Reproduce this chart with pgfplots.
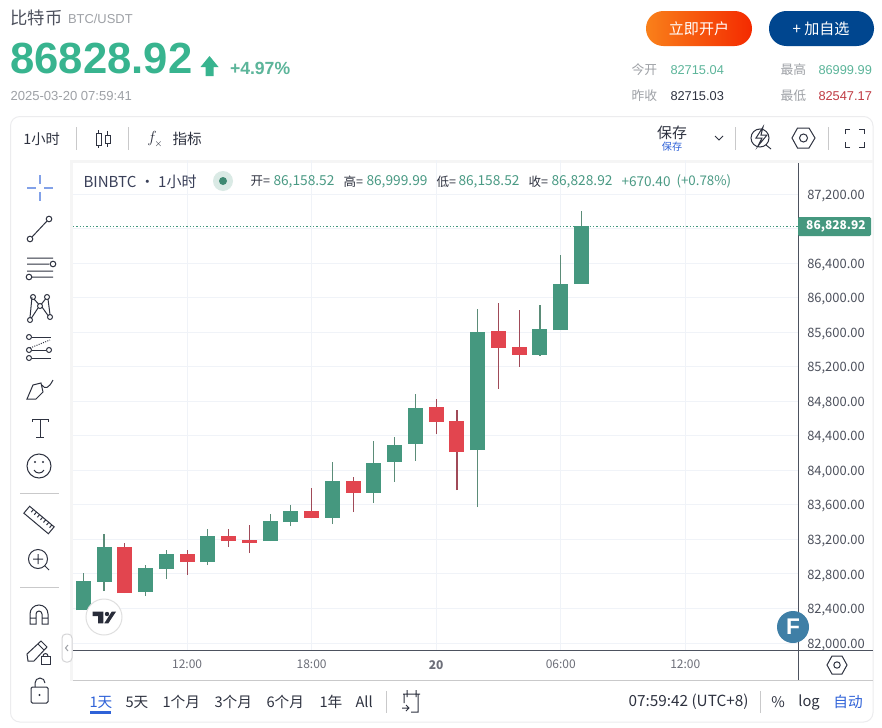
\documentclass[border=0pt]{standalone}
\usepackage{fontspec}
\usepackage{pgfplots}
\usepackage{pgfplotstable}
\pgfplotsset{compat=1.18}
\setmainfont{Noto Sans CJK SC}
\newfontfamily\arial{Liberation Sans}
\definecolor{gbody}{HTML}{45987F}
\definecolor{rbody}{HTML}{E2454F}
\definecolor{gwick}{HTML}{5B8C78}
\definecolor{rwick}{HTML}{A04A58}
\definecolor{gridc}{HTML}{F0F3F8}
\definecolor{hgreen}{HTML}{38B48F}
\definecolor{sgreen}{HTML}{5CB59A}
\definecolor{lgreen}{HTML}{4A9A84}
\definecolor{ghead}{HTML}{9EA1A6}
\definecolor{ink}{HTML}{2E3240}
\definecolor{navy}{HTML}{3A4059}
\definecolor{axisc}{HTML}{4D525F}
\definecolor{bordc}{HTML}{ECECEE}
\definecolor{blueb}{HTML}{00468F}
\definecolor{bluet}{HTML}{2F62D8}
\definecolor{fbadge}{HTML}{3F7FA6}
\definecolor{btnl}{HTML}{F9801A}
\definecolor{btnr}{HTML}{F42A00}
\pgfplotstableread{
h low high bot top
7 82382 82807 82382 82718
8 82602 83262 82707 83112
10 82544 82903 82591 82869
11 82741 83077 82857 83031
13 82903 83320 82938 83239
16 83181 83494 83181 83413
17 83355 83598 83401 83529
19 83378 84096 83448 83876
21 83622 84340 83738 84085
22 83865 84386 84097 84293
23 84108 84884 84305 84722
26 83575 85868 84235 85602
29 85324 85915 85336 85637
30 85625 86494 85625 86158
31 86158.52 86999.99 86158.52 86828.92
}\greentable
\pgfplotstableread{
h low high bot top
9 82579 83158 82579 83112
12 82788 83077 82938 83031
14 83112 83320 83181 83239
15 83042 83367 83158 83193
18 83448 83795 83448 83529
20 83517 83923 83738 83876
24 84421 84826 84560 84733
25 83772 84698 84212 84571
27 84942 85938 85417 85613
28 85197 85857 85336 85428
}\redtable
\newcommand{\fs}[1]{\fontsize{#1}{#1}\selectfont}
\begin{document}
\begin{tikzpicture}
\begin{scope}[x=0.75pt,y=-0.75pt,line width=0.75pt]
\path[use as bounding box] (0,0) rectangle (882,728);
\fill[white] (0,0) rectangle (882,728);
% header
\node[anchor=west,inner sep=0,text=ink!85] at (10,18) {\fs{13}比特币};
\node[anchor=west,inner sep=0,text=ghead] at (67.5,19) {\arial\fs{9.7}BTC/USDT};
\node[anchor=west,inner sep=0,text=hgreen] at (10,58) {\arial\bfseries\fs{32.7}86828.92};
\fill[hgreen] (209.5,56)--(218.5,67)--(213.5,67)--(213.5,76)--(205.5,76)--(205.5,67)--(200.5,67)--cycle;
\node[anchor=west,inner sep=0,text=sgreen] at (229.5,68) {\arial\bfseries\fs{13.2}+4.97\%};
\node[anchor=west,inner sep=0,text=ghead] at (10,96.5) {\arial\fs{9.8}2025-03-20 07:59:41};
% buttons
\shade[left color=btnl,right color=btnr,rounded corners=13pt] (646,11) rectangle (752,46);
\fill[blueb,rounded corners=13pt] (769,11) rectangle (874,46);
\node[text=white,inner sep=0] at (699,28.5) {\fs{11.3}立即开户};
\node[text=white,inner sep=0] at (821,28.5) {\fs{11.3}+ 加自选};
% stats
\foreach \x/\y/\t in {631/70/今开,631/96/昨收,780/70/最高,780/96/最低}
  \node[anchor=west,inner sep=0,text=ghead] at (\x,\y) {\fs{9.6}\t};
\node[anchor=west,inner sep=0,text=sgreen] at (670,70) {\arial\fs{9.6}82715.04};
\node[anchor=west,inner sep=0,text=ink] at (670,96) {\arial\fs{9.6}82715.03};
\node[anchor=west,inner sep=0,text=sgreen] at (818,70) {\arial\fs{9.6}86999.99};
\node[anchor=west,inner sep=0,text=rbody!85!black] at (818,96) {\arial\fs{9.6}82547.17};
% panel
\draw[bordc,rounded corners=7pt,fill=white] (10.5,116.5) rectangle (873,722);
\fill[gray!8] (70,160) rectangle (872.5,163);
\fill[gray!8] (70,160) rectangle (73,681);
% top toolbar
\node[anchor=west,inner sep=0,text=ink] at (23,139) {\fs{10.7}1小时};
\foreach \x in {76,128,735,828} \draw[bordc!85!black] (\x,127)--(\x,150);
\draw[ink] (96,133) rectangle (101,145) (98.5,130)--(98.5,133) (98.5,145)--(98.5,148);
\draw[ink] (105,135) rectangle (110,143) (107.5,131)--(107.5,135) (107.5,143)--(107.5,147);
\node[inner sep=0,text=ink] at (152,138) {\fs{13}$f$};
\node[inner sep=0,text=ink] at (158.5,144) {\fs{7}$\times$};
\node[anchor=west,inner sep=0,text=ink] at (172,139) {\fs{11}指标};
\node[inner sep=0,text=ink] at (672,133) {\fs{11.2}保存};
\node[inner sep=0,text=bluet] at (672,146.5) {\fs{7.6}保存};
\draw[ink] (715,136)--(719,140)--(723,136);
\draw[ink] (760,138) circle (9) (766,145)--(771,149);
\draw[ink,fill=white] (763,127)--(756,138)--(762,138)--(758,146)--(767,135)--(761,135)--cycle;
\draw[ink] (792,138)--(797.5,128)--(809,128)--(815,138)--(809,148)--(797.5,148)--cycle (803.5,138) circle (4);
\draw[ink] (845,134)--(845,129)--(850,129) (859,129)--(864,129)--(864,134) (864,142)--(864,147)--(859,147) (850,147)--(845,147)--(845,142);
% left toolbar
\draw[bluet!60,line width=1pt] (27,188)--(36,188) (44,188)--(53,188) (40,175)--(40,184) (40,192)--(40,201);
\draw[ink] (30,239) circle (2.8) (49,219) circle (2.8) (32,237)--(47,221);
\draw[ink] (27,258)--(53,258) (27,264)--(49,264) (53,264) circle (2.8) (27,271)--(53,271) (32,277)--(53,277) (29,277) circle (2.8);
\draw[ink] (33,297) circle (2.5) (47,297) circle (2.5) (40,306) circle (2.5) (30,320) circle (2.5) (50,317) circle (2.5);
\draw[ink] (34,299)--(38.5,304) (45.5,299)--(41.5,304) (32,297)--(30,317.5) (48,299)--(50,314.5) (38,308)--(31.5,318) (42,307)--(48,315.5);
\draw[ink] (29,337) circle (2.5) (29,350) circle (2.5) (29,358) circle (2.5) (49,350) circle (2.5);
\draw[ink] (32,337)--(51,337) (32,358)--(51,358) (32,350)--(46,350);
\draw[ink,densely dotted] (30,348)--(50,340);
\draw[ink] (27,399)--(33,385)--(41,383)--(43,392)--(36,399)--cycle (42,385) .. controls (45,390) and (49,388) .. (53,380);
\draw[ink] (32,419)--(48,419) (32,419)--(32,422) (48,419)--(48,422) (40,419)--(40,437) (36,437)--(44,437);
\draw[ink] (39,466) circle (12) (34,470) .. controls (36,474) and (42,474) .. (44,470);
\fill[ink] (35,462) circle (1.1) (43,462) circle (1.1);
\foreach \y in {493,587} \draw[bordc!85!black] (20,\y)--(59,\y);
\begin{scope}[shift={(39,520)},rotate=-40]
\draw[ink] (-16,-4.5) rectangle (16,4.5);
\foreach \x in {-11,-7,-3,1,5,9,13} \draw[ink] (\x,-4.5)--(\x,-1);
\end{scope}
\draw[ink] (38,559) circle (9.5) (45,566)--(49,570) (33,559)--(43,559) (38,554)--(38,564);
\draw[ink] (30,624)--(30,614) arc (180:360:9) --(48,624)--(42,624)--(42,614) arc (360:180:3) --(36,624)--cycle (30,618)--(36,618) (42,618)--(48,618);
\draw[ink] (28,661)--(27,654)--(41,641)--(47,647)--(34,661)--cycle (38,644)--(44,650);
\draw[ink,fill=white] (41,656) rectangle (50,664);
\draw[ink] (43,656) arc (180:360:2.5);
\draw[ink,rounded corners=1pt] (31,687) rectangle (48,703);
\draw[ink] (35,687)--(35,683) arc (180:360:5);
\fill[ink] (39.5,695) circle (1.2);
\draw[bordc!90!black,rounded corners=3pt,fill=white] (62,634) rectangle (72,662);
\draw[ghead] (68,645)--(65.5,648)--(68,651);
\end{scope}
\begin{axis}[
  at={(54.75pt,-487.5pt)},anchor=south west,
  scale only axis,width=543.75pt,height=367.5pt,
  xmin=6.504,xmax=41.43,ymin=81919.1,ymax=87593.8,
  axis line style={draw=none},
  major tick length=0pt,
  grid=major,grid style={gridc,line width=0.75pt},
  xtick={12,18,24,30,36},
  xticklabels={12:00,18:00,\textbf{20},06:00,12:00},
  ytick={82000,82400,82800,83200,83600,84000,84400,84800,85200,85600,86000,86400,87200},
  extra y ticks={86800},extra y tick labels={},
  extra y tick style={grid=major,grid style={gridc,line width=0.75pt}},
  scaled y ticks=false,
  yticklabel pos=right,
  yticklabel style={/pgf/number format/.cd,assume math mode=true,fixed,fixed zerofill,precision=2,1000 sep={,},/tikz/.cd,font=\fs{9.7},text=ink!85,inner sep=0pt,xshift=6.75pt,yshift=-1.2pt},
  xticklabel style={font=\fs{9},text=ink!70,inner sep=0pt,yshift=-7.5pt},
  clip=true,
]
\addplot[gbody,line width=0.75pt,dash pattern=on 0.9pt off 1.6pt] coordinates {(6.504,86828.92)(41.43,86828.92)};
\addplot[draw=none,no markers,error bars/.cd,y dir=plus,y explicit,error mark=none,error bar style={draw=gwick,line width=0.85pt}]
  table[x=h,y=low,y error plus expr=\thisrow{high}-\thisrow{low}]{\greentable};
\addplot[draw=none,no markers,error bars/.cd,y dir=plus,y explicit,error mark=none,error bar style={draw=rwick,line width=0.85pt}]
  table[x=h,y=low,y error plus expr=\thisrow{high}-\thisrow{low}]{\redtable};
\addplot[draw=none,no markers,error bars/.cd,y dir=plus,y explicit,error mark=none,error bar style={draw=gbody,line width=11.25pt}]
  table[x=h,y=bot,y error plus expr=\thisrow{top}-\thisrow{bot}]{\greentable};
\addplot[draw=none,no markers,error bars/.cd,y dir=plus,y explicit,error mark=none,error bar style={draw=rbody,line width=11.25pt}]
  table[x=h,y=bot,y error plus expr=\thisrow{top}-\thisrow{bot}]{\redtable};
\end{axis}
\begin{scope}[x=0.75pt,y=-0.75pt,line width=0.75pt]
\draw[axisc,line width=0.75pt] (73,650)--(872.5,650) (798,163)--(798,680);
\draw[bordc!85!black] (73,680)--(872.5,680);
% legend row
\node[anchor=west,inner sep=0,text=navy] at (83,181.5) {\fs{11.3}BINBTC · 1小时};
\fill[gbody!20] (223,181) circle (10);
\fill[gbody!90!black] (223,181) circle (4);
\node[anchor=west,inner sep=0,text=ink] at (250,181.5) {\fs{9.4}开=};
\node[anchor=west,inner sep=0,text=lgreen] at (273,181.5) {\fs{10.3}86,158.52};
\node[anchor=west,inner sep=0,text=ink] at (343,181.5) {\fs{9.4}高=};
\node[anchor=west,inner sep=0,text=lgreen] at (366,181.5) {\fs{10.3}86,999.99};
\node[anchor=west,inner sep=0,text=ink] at (436,181.5) {\fs{9.4}低=};
\node[anchor=west,inner sep=0,text=lgreen] at (458,181.5) {\fs{10.3}86,158.52};
\node[anchor=west,inner sep=0,text=ink] at (528,181.5) {\fs{9.4}收=};
\node[anchor=west,inner sep=0,text=lgreen] at (551,181.5) {\fs{10.3}86,828.92};
\node[anchor=west,inner sep=0,text=lgreen] at (621,181.5) {\fs{10.2}+670.40};
\node[anchor=west,inner sep=0,text=lgreen] at (676,181.5) {\fs{10}(+0.78\%)};
% price tag
\fill[gbody,rounded corners=1pt] (798,217) rectangle (871,236);
\node[text=white,inner sep=0] at (836,226.5) {\fs{9}\bfseries 86,828.92};
% logos
\draw[gray!25,fill=white] (104,617) circle (18);
\fill[ink!90!black] (92.7,611.7) rectangle (103.3,616) (98,616) rectangle (103.3,623.3) (107,614) circle (2.2);
\fill[ink!90!black] (111.7,611.7)--(116,611.7)--(108.3,623.3)--(104.3,623.3)--cycle;
\fill[fbadge] (793,627) circle (16);
\node[text=white,inner sep=0] at (793,627) {\arial\bfseries\fs{17}F};
\draw[ink] (827,665)--(832,656)--(842,656)--(847,665)--(842,674)--(832,674)--cycle (837,665) circle (3.2);
% bottom bar
\foreach \x/\t in {125/5天,162/1个月,214/3个月,266/6个月,319/1年,355/All}
  \node[anchor=west,inner sep=0,text=ink] at (\x,702) {\fs{11}\t};
\node[anchor=west,inner sep=0,text=bluet] at (89,702) {\fs{11}1天};
\fill[bluet] (90,711) rectangle (111,714);
\foreach \x in {386,760} \draw[bordc!85!black] (\x,691)--(\x,713);
\draw[ink] (403,694)--(420,694) (407,690)--(407,697) (416,690)--(416,697) (404,694)--(404,703) (418,694)--(418,712)--(411,712) (402,708)--(409,708) (406,705)--(409,708)--(406,711);
\node[anchor=west,inner sep=0,text=ink] at (628,702) {\fs{11.5}07:59:42 (UTC+8)};
\node[inner sep=0,text=ink] at (778,702) {\fs{11}\%};
\node[inner sep=0,text=ink] at (809,702) {\fs{11}log};
\node[inner sep=0,text=bluet] at (848,702) {\fs{11}自动};
\end{scope}
\end{tikzpicture}
\end{document}
